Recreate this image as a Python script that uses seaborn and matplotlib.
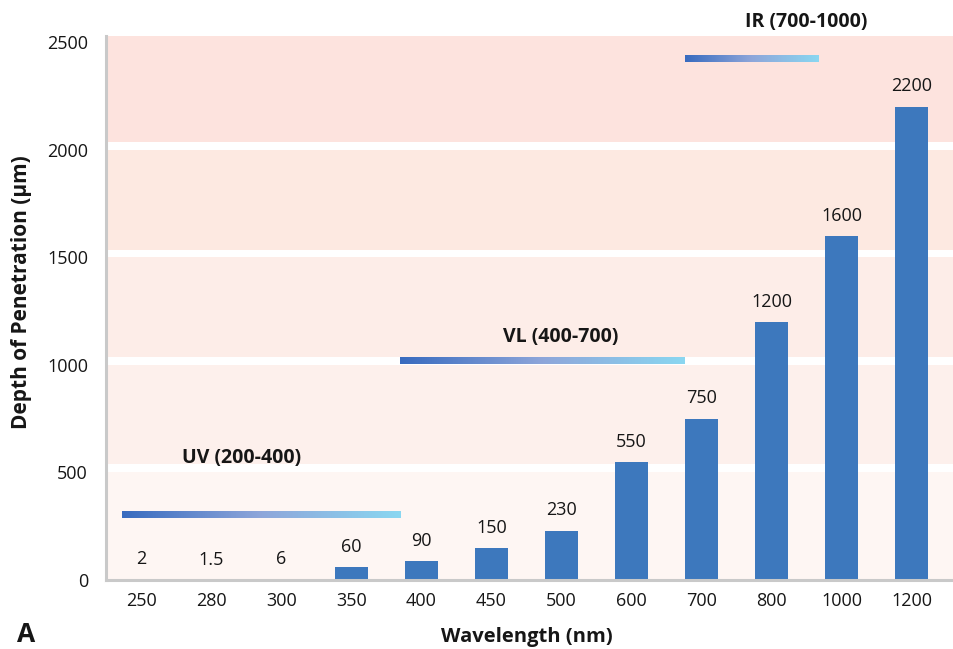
import numpy as np
import pandas as pd
import matplotlib
matplotlib.use("Agg")
import matplotlib.pyplot as plt
from matplotlib.colors import LinearSegmentedColormap
import seaborn as sns

# Penetration depth of light into skin by wavelength
wavelengths = ["250", "280", "300", "350", "400", "450", "500", "600", "700", "800", "1000", "1200"]
depth_um = [2, 1.5, 6, 60, 90, 150, 230, 550, 750, 1200, 1600, 2200]
depth_labels = ["2", "1.5", "6", "60", "90", "150", "230", "550", "750", "1200", "1600", "2200"]

# Spectral ranges: name, start/end (category position), height in µm
range_names = ["UV (200-400)", "VL (400-700)", "IR (700-1000)"]
range_start = [-0.27, 3.70, 7.76]
range_end = [3.70, 7.76, 9.67]
range_level = [305, 1020, 2420]

y_ticks = [0, 500, 1000, 1500, 2000, 2500]

sns.set_theme(style="white")
plt.rcParams["font.family"] = ["Open Sans", "DejaVu Sans"]

BAR = "#3d78bd"
SPINE = "#c9c9c9"
INK = "#161616"

fig = plt.figure(figsize=(9.54, 6.49), dpi=100)
ax = fig.add_axes([106 / 954, 1 - 580 / 649, 1 - 106 / 954, (580 - 36) / 649])

y_top = 2528
x_lo, x_hi = -0.5, 11.6

# pink horizontal bands, darkest at the top
bands = [(0, 500, "#fef6f3"), (537, 1000, "#fdf0ec"), (1035, 1500, "#fdede8"),
         (1533, 2000, "#fde9e1"), (2035, y_top, "#fde3de")]
for lo, hi, c in bands:
    ax.axhspan(lo, hi, color=c, lw=0, zorder=0)

df = pd.DataFrame({"wavelength": wavelengths, "depth": depth_um})
sns.barplot(data=df, x="wavelength", y="depth", color=BAR, width=0.47,
            saturation=1, linewidth=0, ax=ax, zorder=3)

for i, (v, lab) in enumerate(zip(depth_um, depth_labels)):
    ax.annotate(lab, (i, v), xytext=(0, 8), textcoords="offset points",
                ha="center", va="bottom", fontsize=13, color=INK, zorder=5)

# gradient range bars
cmap = LinearSegmentedColormap.from_list("spec", ["#386bbf", "#8ea6da", "#8ad7f1"])
grad = np.linspace(0, 1, 256).reshape(1, -1)
half = 15
for name, x0, x1, yv in zip(range_names, range_start, range_end, range_level):
    ax.imshow(grad, cmap=cmap, extent=(x0, x1, yv - half, yv + half),
              aspect="auto", zorder=4, interpolation="bilinear")

label_kw = dict(ha="center", va="center", fontsize=14, fontweight="bold",
                color=INK, zorder=6)
ax.text(1.43, 565, range_names[0], **label_kw)
ax.text(5.99, 1130, range_names[1], **label_kw)
ax.text(9.49, 2595, range_names[2], clip_on=False, **label_kw)

ax.set_xlim(x_lo, x_hi)
ax.set_ylim(0, y_top)
ax.set_yticks(y_ticks)
ax.set_yticklabels([str(t) for t in y_ticks])
ax.tick_params(axis="both", length=0, labelsize=13, colors=INK)
ax.tick_params(axis="y", pad=13)
ax.tick_params(axis="x", pad=9)

for s in ["top", "right"]:
    ax.spines[s].set_visible(False)
for s in ["left", "bottom"]:
    ax.spines[s].set_color(SPINE)
    ax.spines[s].set_linewidth(2.2)
    ax.spines[s].set_zorder(7)

ax.set_xlabel("")
ax.set_ylabel("")
fig.text(527 / 954, 1 - 637 / 649, "Wavelength (nm)", ha="center", va="center",
         fontsize=14.5, fontweight="bold", color=INK)
fig.text(22 / 954, 1 - 292 / 649, "Depth of Penetration (µm)", ha="center", va="center",
         rotation=90, fontsize=15, fontweight="bold", color=INK)
fig.text(26 / 954, 1 - 634 / 649, "A", ha="center", va="center",
         fontsize=19, fontweight="bold", color=INK)

fig.savefig("out.png", dpi=100, facecolor="white")
